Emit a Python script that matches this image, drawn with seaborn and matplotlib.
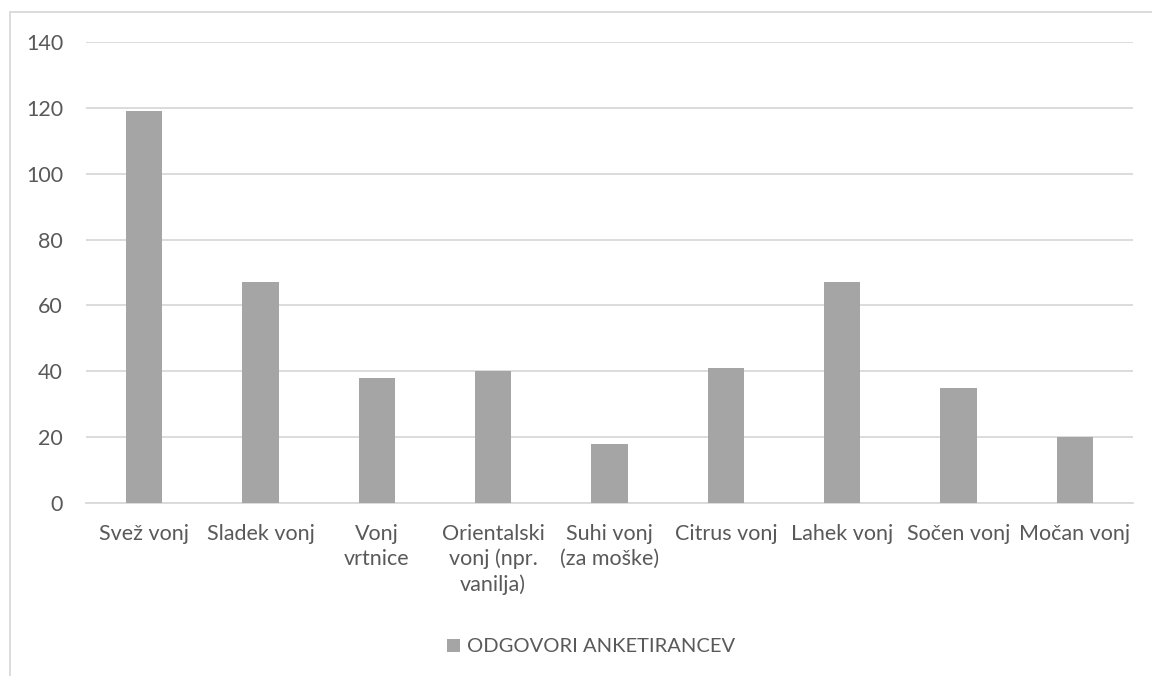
import matplotlib
matplotlib.use("Agg")
import matplotlib.pyplot as plt
from matplotlib.patches import Rectangle, Patch
import seaborn as sns
import pandas as pd

categories = ["Svež vonj", "Sladek vonj", "Vonj\nvrtnice", "Orientalski\nvonj (npr.\nvanilja)",
              "Suhi vonj\n(za moške)", "Citrus vonj", "Lahek vonj", "Sočen vonj", "Močan vonj"]
values = [119, 67, 38, 40, 18, 41, 67, 35, 20]
series_name = "ODGOVORI ANKETIRANCEV"
y_ticks = [0, 20, 40, 60, 80, 100, 120, 140]

sns.set_theme(style="white")
plt.rcParams["font.family"] = ["Lato", "DejaVu Sans"]

W, H = 1152, 676
fig = plt.figure(figsize=(W / 100, H / 100), dpi=100)
fig.patch.set_facecolor("white")

# outer chart frame
fig.add_artist(Rectangle((9.5 / W, -0.1), 1.2, 1.1 - 12 / H, transform=fig.transFigure,
                         fill=False, edgecolor="#D9D9D9", linewidth=1.3))

ax = fig.add_axes([86 / W, 1 - 503 / H, (1133 - 86) / W, (503 - 42) / H])

df = pd.DataFrame({"kategorija": categories, "odgovori": values})
sns.barplot(data=df, x="kategorija", y="odgovori", color="#A5A5A5", saturation=1,
            width=0.31, linewidth=0, ax=ax, zorder=3)

ax.set_ylim(0, 140)
ax.set_yticks(y_ticks)
ax.yaxis.grid(True, color="#D9D9D9", linewidth=1.3, zorder=0)
ax.set_axisbelow(True)
for s in ["top", "right", "left"]:
    ax.spines[s].set_visible(False)
ax.spines["bottom"].set_color("#D9D9D9")
ax.spines["bottom"].set_linewidth(1.3)
ax.set_xlabel("")
ax.set_ylabel("")
ax.tick_params(axis="both", length=0, labelsize=15.5, colors="#595959")
ax.tick_params(axis="y", pad=16.5)
ax.tick_params(axis="x", pad=15)
for lbl in ax.get_xticklabels():
    lbl.set_linespacing(1.3)

handle = Patch(facecolor="#A5A5A5", edgecolor="none")
fig.legend([handle], [series_name], loc="center", bbox_to_anchor=(591 / W, 1 - 647 / H),
           frameon=False, fontsize=14.5, labelcolor="#595959", handlelength=0.65,
           handleheight=0.65, handletextpad=0.35)

fig.savefig("out.png", dpi=100, facecolor="white")
